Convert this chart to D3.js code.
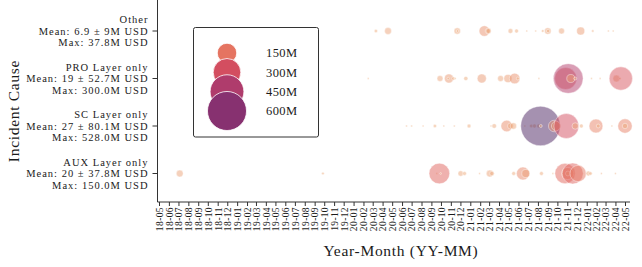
<!DOCTYPE html>
<html>
<head>
<meta charset="utf-8">
<script src="https://cdn.jsdelivr.net/npm/d3@7"></script>
<style>
  body { margin: 0; background: #fff; }
  svg { display: block; font-family: "Liberation Serif", "DejaVu Serif", serif; }
</style>
</head>
<body>
<svg id="chart"></svg>
<script>
///////////////////////////////////////////
//////////////// Data /////////////////////
///////////////////////////////////////////
const categories = ["Other", "PRO Layer only", "SC Layer only", "AUX Layer only"]
const categoryMeans = ["6.9 \u00b1 9M USD", "19 \u00b1 52.7M USD", "27 \u00b1 80.1M USD", "20 \u00b1 37.8M USD"]
const categoryMaxes = ["37.8M USD", "300.0M USD", "528.0M USD", "150.0M USD"]

// incident date, loss in M USD
const otherIncidents = [
  ["2020-03-11", 4], ["2020-04-18", 16], ["2020-11-21", 14], ["2020-11-22", 2],
  ["2021-02-14", 37.8], ["2021-02-26", 12], ["2021-02-27", 8], ["2021-05-07", 8],
  ["2021-05-26", 5], ["2021-06-27", 0.3], ["2021-07-25", 0.3], ["2021-08-16", 2.5],
  ["2021-09-01", 15], ["2021-09-02", 4], ["2021-10-14", 12], ["2021-12-13", 22],
  ["2022-01-20", 2], ["2022-03-10", 0.6], ["2022-03-25", 0.6]
]
const proIncidents = [
  ["2020-02-16", 0.3], ["2020-09-28", 12], ["2020-10-26", 28], ["2020-10-24", 2],
  ["2020-11-09", 4], ["2020-11-15", 1], ["2020-12-18", 6], ["2021-02-06", 28],
  ["2021-04-06", 12], ["2021-04-29", 22], ["2021-05-20", 38], ["2021-05-30", 3],
  ["2021-08-04", 0.3], ["2021-10-27", 164], ["2021-11-04", 300], ["2021-11-12", 22],
  ["2021-11-26", 3], ["2022-01-16", 0.6], ["2022-02-12", 0.3], ["2022-04-04", 16],
  ["2022-04-15", 2], ["2022-04-18", 185]
]
const scIncidents = [
  ["2020-06-15", 0.2], ["2020-07-01", 0.2], ["2020-08-06", 0.5], ["2020-09-12", 4],
  ["2020-10-10", 0.5], ["2020-11-12", 0.8], ["2020-12-28", 5], ["2021-03-07", 1],
  ["2021-03-17", 7], ["2021-04-25", 45], ["2021-05-07", 12], ["2021-05-16", 14],
  ["2021-06-21", 1], ["2021-07-11", 4], ["2021-07-21", 5], ["2021-08-04", 6],
  ["2021-08-09", 528], ["2021-08-10", 3], ["2021-09-21", 45], ["2021-09-27", 30],
  ["2021-10-29", 211], ["2021-11-26", 14], ["2021-12-15", 5], ["2022-01-30", 65],
  ["2022-02-06", 5], ["2022-03-21", 0.4], ["2022-05-01", 70], ["2022-05-01", 10]
]
const auxIncidents = [
  ["2018-07-05", 16], ["2019-09-27", 2.5], ["2020-09-18", 0.4], ["2020-09-26", 145],
  ["2020-09-30", 0.4], ["2020-12-02", 10], ["2020-12-14", 5], ["2021-01-30", 0.8],
  ["2021-03-03", 16], ["2021-03-10", 7], ["2021-05-17", 5], ["2021-06-15", 57],
  ["2021-06-24", 22], ["2021-08-12", 5], ["2021-09-17", 0.8], ["2021-10-25", 140],
  ["2021-11-02", 50], ["2021-11-03", 8], ["2021-11-18", 150], ["2021-12-05", 90],
  ["2022-01-06", 8], ["2022-01-13", 4], ["2022-02-16", 0.5], ["2022-04-01", 0.3]
]
const incidentsByCategory = [otherIncidents, proIncidents, scIncidents, auxIncidents]

const legendValues = [150, 300, 450, 600]
const legendLabels = ["150M", "300M", "450M", "600M"]

///////////////////////////////////////////
//////////////// Constants ////////////////
///////////////////////////////////////////
const width = 642
const height = 267
const axisColour = "#333"
const textColour = "#1a1a1a"
const labelLineGap = 11.6

// seaborn "flare" stops
const flareStops = ["#EDB081", "#E98D6B", "#E3685C", "#D14A61", "#B13C6C", "#8F3371", "#6C2B6D", "#4B2362"]
const flarePos = [0, 0.083, 0.25, 0.417, 0.583, 0.75, 0.917, 1]
const flare = d3.scaleLinear().domain(flarePos).range(flareStops).interpolate(d3.interpolateRgb)

const parseDate = d3.timeParse("%Y-%m-%d")

///////////////////////////////////////////
//////////////// Scales ///////////////////
///////////////////////////////////////////
const x = d3.scaleTime()
  .domain([new Date(2018, 4, 1), new Date(2022, 4, 1)])
  .range([159, 625])

const y = d3.scalePoint()
  .domain(categories)
  .range([31, 173.5])

const r = d3.scaleSqrt().domain([0, 600]).range([0, 21])
const colour = v => flare(Math.min(1, v / 528))
const legendColour = v => flare(v / 760)

const svg = d3.select("#chart")
  .attr("width", width)
  .attr("height", height)

///////////////////////////////////////////
//////////////// Points ///////////////////
///////////////////////////////////////////
const points = []
incidentsByCategory.forEach((list, i) => {
  list.forEach(d => points.push({ cat: categories[i], date: parseDate(d[0]), value: d[1] }))
})

svg.append("g")
  .selectAll("circle")
  .data(points)
  .join("circle")
    .attr("cx", d => x(d.date))
    .attr("cy", d => y(d.cat))
    .attr("r", d => Math.max(0.9, r(d.value)))
    .attr("fill", d => colour(d.value))
    .attr("fill-opacity", 0.5)
    .attr("stroke", "#fff")
    .attr("stroke-opacity", 0.7)
    .attr("stroke-width", 0.6)

///////////////////////////////////////////
//////////////// Axes /////////////////////
///////////////////////////////////////////
// spines
svg.append("line")
  .attr("x1", 157.5).attr("x2", 157.5).attr("y1", 0).attr("y2", 202)
  .attr("stroke", axisColour).attr("stroke-width", 1)
svg.append("line")
  .attr("x1", 157.5).attr("x2", 630).attr("y1", 202).attr("y2", 202)
  .attr("stroke", axisColour).attr("stroke-width", 1)

const xAxis = svg.append("g")
  .attr("transform", "translate(0,202)")
  .call(d3.axisBottom(x)
    .ticks(d3.timeMonth.every(1))
    .tickFormat(d3.timeFormat("%y-%m"))
    .tickSizeOuter(0)
    .tickSize(4))
xAxis.select(".domain").remove()
xAxis.selectAll(".tick line").attr("stroke", axisColour)
xAxis.selectAll(".tick text")
  .attr("transform", "rotate(-90)")
  .attr("x", -5)
  .attr("y", 0)
  .attr("dy", "0.35em")
  .attr("text-anchor", "end")
  .attr("fill", textColour)
  .style("font-family", "'Liberation Serif', serif")
  .style("font-size", "9.5px")
  .style("letter-spacing", "0.4px")

// y ticks + three-line labels
const yTick = svg.append("g")
  .selectAll("g")
  .data(categories)
  .join("g")
    .attr("transform", d => `translate(157.5,${y(d)})`)
yTick.append("line")
  .attr("x1", -5).attr("x2", 0)
  .attr("stroke", axisColour)
const yText = yTick.append("text")
  .attr("text-anchor", "end")
  .attr("fill", textColour)
  .style("font-size", "10.5px")
  .style("letter-spacing", "1px")
yText.append("tspan").attr("x", -9).attr("y", -labelLineGap).attr("dy", "0.35em").text(d => d)
yText.append("tspan").attr("x", -9).attr("y", 0).attr("dy", "0.35em")
  .text((d, i) => `Mean: ${categoryMeans[i]}`)
yText.append("tspan").attr("x", -9).attr("y", labelLineGap).attr("dy", "0.35em")
  .text((d, i) => `Max: ${categoryMaxes[i]}`)

// axis titles
svg.append("text")
  .attr("transform", "translate(14,111) rotate(-90)")
  .attr("text-anchor", "middle")
  .attr("dy", "0.35em")
  .attr("fill", textColour)
  .style("font-size", "15.5px")
  .style("letter-spacing", "0.7px")
  .text("Incident Cause")

svg.append("text")
  .attr("x", 401).attr("y", 251)
  .attr("text-anchor", "middle")
  .attr("dy", "0.35em")
  .attr("fill", textColour)
  .style("font-size", "15.5px")
  .style("letter-spacing", "0.7px")
  .text("Year-Month (YY-MM)")

///////////////////////////////////////////
//////////////// Legend ///////////////////
///////////////////////////////////////////
const legend = svg.append("g")
legend.append("rect")
  .attr("x", 193.5).attr("y", 27.5)
  .attr("width", 125).attr("height", 109.5)
  .attr("rx", 2)
  .attr("fill", "#fff")
  .attr("stroke", "#333")
  .attr("stroke-width", 1)

const legendY = d3.scalePoint().domain(legendValues).range([53, 111])
legend.selectAll("circle")
  .data(legendValues)
  .join("circle")
    .attr("cx", 227)
    .attr("cy", d => legendY(d))
    .attr("r", d => r(d) * 0.93)
    .attr("fill", d => legendColour(d))
    .attr("stroke", "#fff")
    .attr("stroke-width", 0.8)

legend.selectAll("text")
  .data(legendValues)
  .join("text")
    .attr("x", 266)
    .attr("y", d => legendY(d))
    .attr("dy", "0.35em")
    .attr("fill", textColour)
    .style("font-size", "12.5px")
    .style("letter-spacing", "0.4px")
    .text((d, i) => legendLabels[i])
</script>
</body>
</html>
